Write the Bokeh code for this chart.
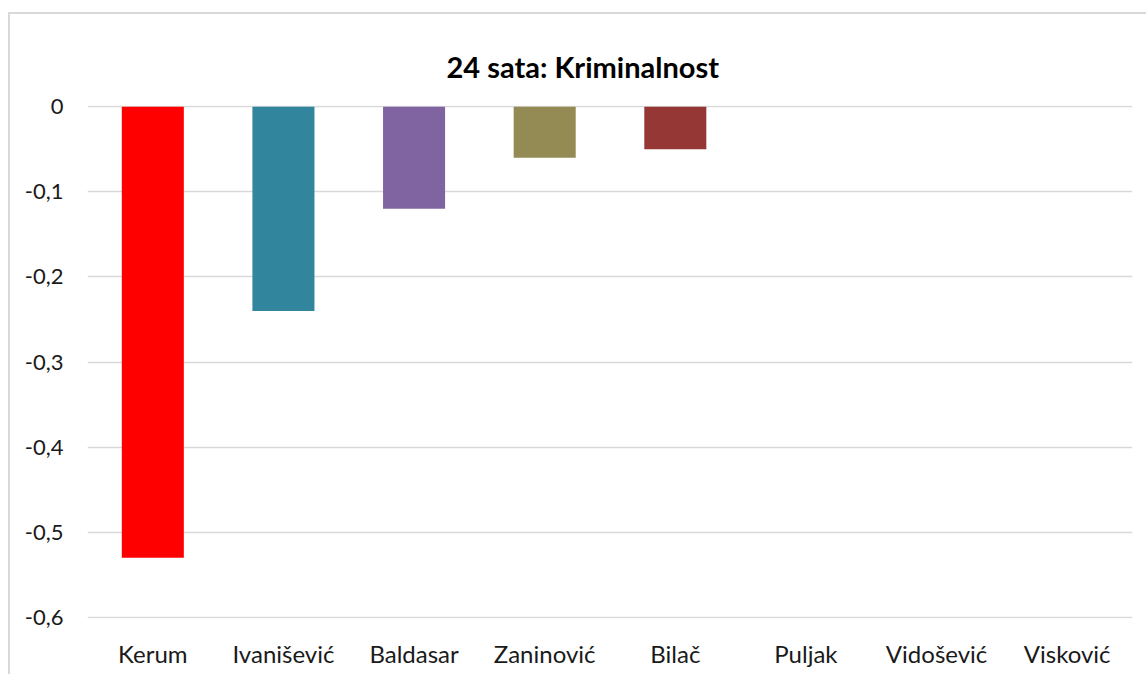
from bokeh.plotting import figure
from bokeh.models import ColumnDataSource, Range1d, FactorRange, FixedTicker
from bokeh.embed import file_html
from bokeh.resources import INLINE

categories = ["Kerum", "Ivanišević", "Baldasar", "Zaninović", "Bilač", "Puljak", "Vidošević", "Visković"]
values = [-0.53, -0.24, -0.12, -0.06, -0.05, 0.0, 0.0, 0.0]
colors = ["#FF0000", "#31859C", "#8064A2", "#948A54", "#953735", "#4F81BD", "#4F81BD", "#4F81BD"]
y_ticks = [0, -0.1, -0.2, -0.3, -0.4, -0.5, -0.6]
y_tick_labels = ["0", "-0,1", "-0,2", "-0,3", "-0,4", "-0,5", "-0,6"]

src = ColumnDataSource(dict(cat=categories, val=values, zero=[0] * len(values), color=colors))

FONT = "Lato"
p = figure(
    width=1138, height=662,
    x_range=FactorRange(*categories, range_padding=0),
    y_range=Range1d(-0.6015, 0.0015),
    output_backend="svg", toolbar_location=None,
    min_border_left=77, min_border_right=16, min_border_top=91, min_border_bottom=58,
    title="24 sata: Kriminalnost",
)
p.styles = {"border-top": "2px solid #d9d9d9", "border-left": "2px solid #d9d9d9",
            "margin-top": "12px", "margin-left": "8px"}
p.title.align = "left"
p.title.text_font = FONT
p.title.text_font_size = "29px"
p.title.text_font_style = "bold"
p.title.text_color = "#000000"
p.title.offset = 359
p.title.standoff = 44

p.vbar(x="cat", top="zero", bottom="val", width=0.475, color="color", line_color=None, source=src)

p.outline_line_color = None
p.xgrid.grid_line_color = None
p.ygrid.grid_line_color = "#d9d9d9"
p.ygrid.grid_line_width = 1.5
p.ygrid.ticker = FixedTicker(ticks=y_ticks)

p.yaxis.ticker = FixedTicker(ticks=y_ticks)
p.yaxis.major_label_overrides = {t: l for t, l in zip(y_ticks, y_tick_labels)}
p.yaxis.axis_line_color = None
p.yaxis.major_tick_line_color = None
p.yaxis.minor_tick_line_color = None
p.yaxis.major_label_standoff = 18
p.yaxis.major_label_text_font = FONT
p.yaxis.major_label_text_font_size = "22px"
p.yaxis.major_label_text_color = "#1a1a1a"

p.xaxis.axis_line_color = None
p.xaxis.major_tick_line_color = None
p.xaxis.major_label_standoff = 14
p.xaxis.major_label_text_font = FONT
p.xaxis.major_label_text_font_size = "24px"
p.xaxis.major_label_text_color = "#1a1a1a"

open("out.html", "w").write(file_html(p, INLINE))
